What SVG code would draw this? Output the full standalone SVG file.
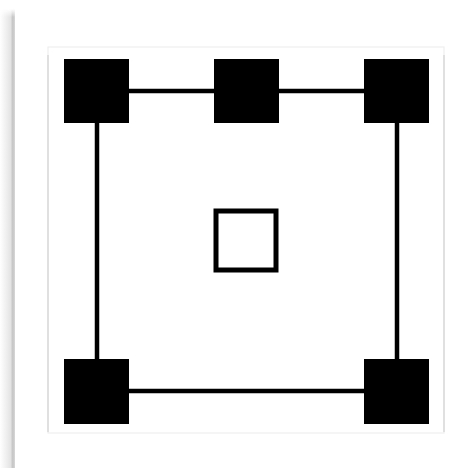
<svg xmlns="http://www.w3.org/2000/svg" width="476" height="468" viewBox="0 0 476 468">
  <defs>
    <linearGradient id="bar" x1="0" y1="0" x2="1" y2="0">
      <stop offset="0" stop-color="#ffffff"/>
      <stop offset="0.7" stop-color="#e4e4e4"/>
      <stop offset="0.85" stop-color="#c4c4c4"/>
      <stop offset="1" stop-color="#d8d8d8"/>
    </linearGradient>
    <linearGradient id="barTop" x1="0" y1="0" x2="0" y2="1">
      <stop offset="0" stop-color="#fff" stop-opacity="1"/>
      <stop offset="1" stop-color="#fff" stop-opacity="0"/>
    </linearGradient>
  </defs>
  <style>
    .node { fill: #000; }
    .conn { stroke: #000; stroke-width: 4.5; fill: none; }
    .hollow { fill: #fff; stroke: #000; stroke-width: 5; }
  </style>
  <rect width="476" height="468" fill="#fff"/>
  <rect x="0" y="9" width="15" height="459" fill="url(#bar)"/>
  <rect x="0" y="9" width="15" height="8" fill="url(#barTop)"/>
  <g id="card">
    <rect x="48" y="47" width="396" height="386" fill="#fff" stroke="#efefef" stroke-width="1.2"/>
    <line x1="48" y1="55" x2="48" y2="432" stroke="#d2d2d2" stroke-width="1.2"/>
    <line x1="444" y1="55" x2="444" y2="432" stroke="#d2d2d2" stroke-width="1.2"/>
  </g>
  <g id="connectors">
    <line class="conn" x1="129" y1="91" x2="364" y2="91"/>
    <line class="conn" x1="97" y1="123" x2="97" y2="359"/>
    <line class="conn" x1="397" y1="123" x2="397" y2="359"/>
    <line class="conn" x1="129" y1="391" x2="364" y2="391"/>
  </g>
  <g id="node-tl"><rect class="node" x="64" y="59" width="65" height="64"/></g>
  <g id="node-tm"><rect class="node" x="214" y="59" width="65" height="64"/></g>
  <g id="node-tr"><rect class="node" x="364" y="59" width="65" height="64"/></g>
  <g id="node-bl"><rect class="node" x="64" y="359" width="65" height="65"/></g>
  <g id="node-br"><rect class="node" x="364" y="359" width="65" height="65"/></g>
  <g id="node-center"><rect class="hollow" x="216" y="211" width="60" height="59"/></g>
</svg>
